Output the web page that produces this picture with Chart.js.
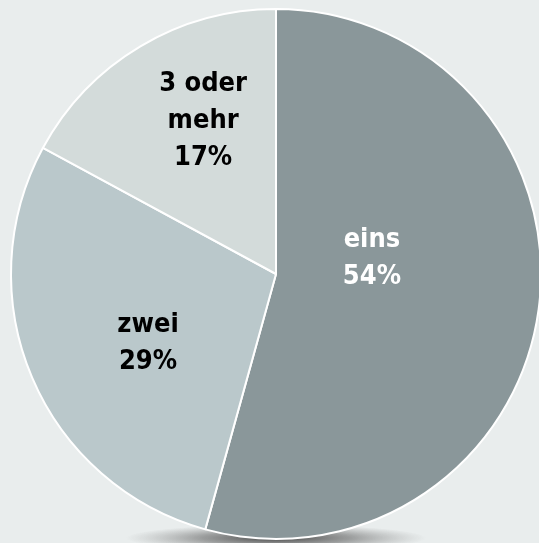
<!DOCTYPE html>
<html>
<head>
<meta charset="utf-8">
<script src="https://cdn.jsdelivr.net/npm/chart.js@4.4.1/dist/chart.umd.min.js"></script>
<style>
  html, body { margin: 0; padding: 0; background: #e9eded; overflow: hidden; }
  #wrap { position: absolute; left: 0; top: 0; width: 539px; height: 543px; }
</style>
</head>
<body>
<div id="wrap"><canvas id="c" width="539" height="543"></canvas></div>
<script>
const categories = ["eins", "zwei", "3 oder mehr"];
const labelLines = [["eins"], ["zwei"], ["3 oder", "mehr"]];
const values = [54.3, 28.6, 17.1];
const percentLabels = ["54%", "29%", "17%"];

const sliceColors = ["#8a979a", "#bac8cb", "#d3dbda"];
const textColors = ["#ffffff", "#000000", "#000000"];
// label anchor, relative to pie centre, in fractions of the radius
const labelOffsets = [[0.362, -0.07], [-0.483, 0.251], [-0.275, -0.589]];

const shadowPlugin = {
  id: 'shadow',
  beforeDatasetsDraw(chart) {
    const arc = chart.getDatasetMeta(0).data[0];
    if (!arc) return;
    const ctx = chart.ctx;
    const cx = arc.x, cy = arc.y, r = arc.outerRadius;
    ctx.save();
    ctx.translate(cx, cy + r - 1);
    ctx.scale(1, 0.09);
    const g = ctx.createRadialGradient(0, 0, 0, 0, 0, 150);
    g.addColorStop(0, 'rgba(40,40,40,0.85)');
    g.addColorStop(0.5, 'rgba(80,80,80,0.5)');
    g.addColorStop(1, 'rgba(120,120,120,0)');
    ctx.fillStyle = g;
    ctx.beginPath();
    ctx.arc(0, 0, 150, 0, Math.PI * 2);
    ctx.fill();
    ctx.restore();
  }
};

const labelPlugin = {
  id: 'sliceLabels',
  afterDatasetsDraw(chart) {
    const ctx = chart.ctx;
    const meta = chart.getDatasetMeta(0);
    const lh = 37;
    const sx = 0.9;
    meta.data.forEach((arc, i) => {
      const lines = labelLines[i].concat([percentLabels[i]]);
      const x = arc.x + labelOffsets[i][0] * arc.outerRadius;
      const y = arc.y + labelOffsets[i][1] * arc.outerRadius;
      const top = y - (lines.length - 1) * lh / 2;
      ctx.save();
      ctx.font = 'bold 27px "DejaVu Sans", Verdana, sans-serif';
      ctx.textAlign = 'center';
      ctx.textBaseline = 'alphabetic';
      ctx.fillStyle = textColors[i];
      ctx.translate(x, 0);
      ctx.scale(sx, 1);
      lines.forEach((t, k) => ctx.fillText(t, 0, top + k * lh + 10));
      ctx.restore();
    });
  }
};

new Chart(document.getElementById('c'), {
  type: 'pie',
  data: {
    labels: categories,
    datasets: [{
      data: values,
      backgroundColor: sliceColors,
      borderColor: '#ffffff',
      borderWidth: 2,
      clip: false
    }]
  },
  options: {
    responsive: false,
    animation: false,
    radius: 265,
    layout: { padding: { left: 13, right: 0, top: 5, bottom: 0 } },
    plugins: {
      legend: { display: false },
      tooltip: { enabled: false }
    }
  },
  plugins: [shadowPlugin, labelPlugin]
});
</script>
</body>
</html>
